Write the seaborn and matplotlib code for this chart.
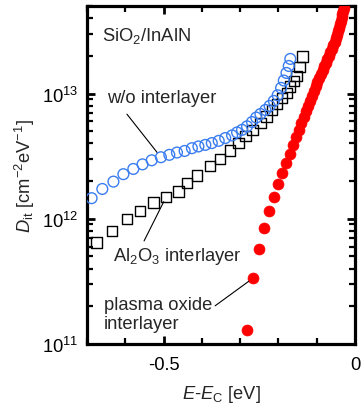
import numpy as np
import pandas as pd
import matplotlib
matplotlib.use("Agg")
import matplotlib.pyplot as plt
from matplotlib.ticker import MultipleLocator, LogLocator, NullFormatter
import seaborn as sns

# ---------------- data ----------------
wo_x = [-0.688, -0.660, -0.631, -0.605, -0.579, -0.555, -0.531, -0.507, -0.485,
        -0.465, -0.445, -0.426, -0.409, -0.391, -0.374, -0.356, -0.339, -0.321,
        -0.308, -0.295, -0.282, -0.269, -0.258, -0.247, -0.234, -0.223, -0.212,
        -0.202, -0.193, -0.186, -0.179, -0.173, -0.169]
wo_y = [1.46e12, 1.73e12, 1.98e12, 2.27e12, 2.50e12, 2.72e12, 2.93e12, 3.10e12,
        3.24e12, 3.38e12, 3.48e12, 3.66e12, 3.78e12, 3.89e12, 4.02e12, 4.19e12,
        4.41e12, 4.63e12, 4.89e12, 5.13e12, 5.47e12, 5.92e12, 6.43e12, 6.86e12,
        7.39e12, 7.96e12, 8.73e12, 9.69e12, 1.11e13, 1.27e13, 1.46e13, 1.66e13,
        1.89e13]

al_x = [-0.675, -0.634, -0.596, -0.561, -0.526, -0.493, -0.461, -0.438, -0.412,
        -0.378, -0.352, -0.327, -0.304, -0.286, -0.268, -0.247, -0.231, -0.216,
        -0.203, -0.190, -0.177, -0.169, -0.160, -0.153, -0.145, -0.137]
al_y = [6.46e11, 8.01e11, 9.93e11, 1.15e12, 1.35e12, 1.50e12, 1.65e12, 1.92e12,
        2.22e12, 2.63e12, 2.99e12, 3.50e12, 4.02e12, 4.57e12, 5.11e12, 5.81e12,
        6.55e12, 7.39e12, 8.25e12, 9.22e12, 1.01e13, 1.14e13, 1.26e13, 1.38e13,
        1.63e13, 1.98e13]

po_x = [-0.282, -0.266, -0.252, -0.238, -0.224, -0.212, -0.201, -0.190, -0.180,
        -0.170, -0.162, -0.153, -0.147, -0.140, -0.133, -0.128, -0.123, -0.118,
        -0.112, -0.107, -0.102, -0.098, -0.093, -0.089, -0.084, -0.080, -0.076,
        -0.072, -0.068, -0.064, -0.060, -0.057, -0.053, -0.050, -0.047, -0.045,
        -0.042, -0.040, -0.037, -0.035, -0.034, -0.032, -0.030]
po_y = [1.29e11, 3.36e11, 5.78e11, 8.51e11, 1.15e12, 1.49e12, 1.88e12, 2.34e12,
        2.81e12, 3.32e12, 3.89e12, 4.49e12, 5.13e12, 5.81e12, 6.49e12, 7.19e12,
        7.96e12, 8.73e12, 9.57e12, 1.05e13, 1.14e13, 1.24e13, 1.33e13, 1.44e13,
        1.55e13, 1.65e13, 1.76e13, 1.88e13, 2.00e13, 2.14e13, 2.28e13, 2.43e13,
        2.59e13, 2.77e13, 2.95e13, 3.15e13, 3.36e13, 3.58e13, 3.82e13, 4.08e13,
        4.35e13, 4.59e13, 4.86e13]

x_ticks = [-0.5, 0.0]
x_tick_labels = ["-0.5", "0"]

# ---------------- style ----------------
sns.set_theme(style="ticks")
plt.rcParams["font.family"] = ["Liberation Sans", "DejaVu Sans"]
plt.rcParams["mathtext.fontset"] = "custom"
plt.rcParams["mathtext.rm"] = "Liberation Sans"
plt.rcParams["mathtext.it"] = "Liberation Sans:italic"
plt.rcParams["mathtext.default"] = "regular"
plt.rcParams["axes.unicode_minus"] = False

FS = 13.2
fig = plt.figure(figsize=(3.61, 4.10), dpi=100)
ax = fig.add_axes([87 / 361, 65 / 410, 268 / 361, 338 / 410])

wo_df = pd.DataFrame({"x": wo_x, "y": wo_y})
al_df = pd.DataFrame({"x": al_x, "y": al_y})
po_df = pd.DataFrame({"x": po_x, "y": po_y})

sns.scatterplot(data=po_df, x="x", y="y", ax=ax, marker="o", s=62,
                color="#ff0000", edgecolor="#ff0000", linewidth=0.5, zorder=3)
sns.scatterplot(data=al_df, x="x", y="y", ax=ax, marker="s", s=55,
                color="black", linewidth=1.0, zorder=4)
ax.collections[-1].set_facecolor("none")
ax.collections[-1].set_edgecolor("black")
sns.scatterplot(data=wo_df, x="x", y="y", ax=ax, marker="o", s=60,
                color="#3a7df0", linewidth=1.0, zorder=5)
ax.collections[-1].set_facecolor("none")
ax.collections[-1].set_edgecolor("#3a7df0")

ax.set_yscale("log")
ax.set_xlim(-0.7, 0.0)
ax.set_ylim(1e11, 5e13)

ax.set_xticks(x_ticks, labels=x_tick_labels)
ax.xaxis.set_minor_locator(MultipleLocator(0.1))
ax.yaxis.set_major_locator(LogLocator(base=10, numticks=10))
ax.yaxis.set_minor_locator(LogLocator(base=10, subs=np.arange(2, 10), numticks=20))
ax.yaxis.set_minor_formatter(NullFormatter())

ax.tick_params(which="both", direction="in", top=True, right=True,
               labelsize=FS, colors="black")
ax.tick_params(axis="x", which="both", pad=9)
ax.tick_params(axis="y", which="both", pad=6)
ax.tick_params(which="major", length=6, width=2)
ax.tick_params(which="minor", length=4, width=1.6)
for sp in ax.spines.values():
    sp.set_linewidth(2.3)
    sp.set_color("black")

ax.set_xlabel(r"$\mathit{E}$-$\mathit{E}_{C}$ [eV]", fontsize=FS, labelpad=7)
ax.set_ylabel(r"$\mathit{D}_{it}$ [cm$^{-2}$eV$^{-1}$]", fontsize=FS, labelpad=4)

# ---------------- annotations ----------------
ax.text(0.055, 0.914, r"SiO$_2$/InAlN", transform=ax.transAxes,
        fontsize=FS, ha="left", va="center")
ax.text(0.075, 0.728, "w/o interlayer", transform=ax.transAxes,
        fontsize=FS, ha="left", va="center")
ax.text(0.097, 0.261, r"Al$_2$O$_3$ interlayer", transform=ax.transAxes,
        fontsize=FS, ha="left", va="center")
ax.text(0.063, 0.089, "plasma oxide\ninterlayer", transform=ax.transAxes,
        fontsize=FS, ha="left", va="center", linespacing=1.15)

lp = dict(arrowstyle="-", color="black", lw=0.8, shrinkA=0, shrinkB=4)
ax.annotate("", xy=(wo_x[7], wo_y[7]), xytext=(0.149, 0.680),
            textcoords="axes fraction", arrowprops=lp)
ax.annotate("", xy=(al_x[5], al_y[5]), xytext=(0.213, 0.305),
            textcoords="axes fraction", arrowprops=lp)
ax.annotate("", xy=(po_x[1], po_y[1]), xytext=(0.478, 0.113),
            textcoords="axes fraction", arrowprops=lp)

fig.savefig("out.png", dpi=100)
